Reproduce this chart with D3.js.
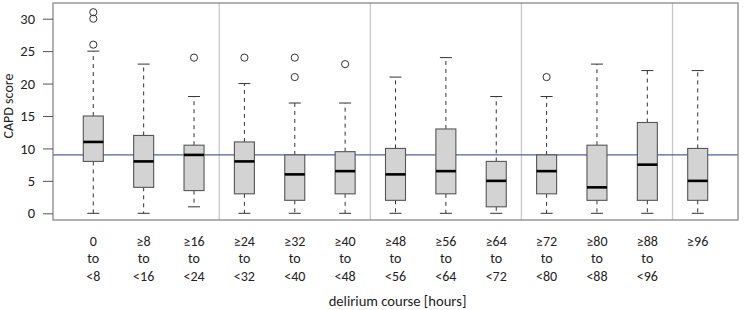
<!DOCTYPE html>
<html><head><meta charset="utf-8">
<script src="https://cdn.jsdelivr.net/npm/d3@7"></script>
<style>
body{margin:0;background:#fff;}
svg text{font-family:Carlito,Lato,"Open Sans",sans-serif;fill:#222;}
</style></head>
<body><svg id="c" width="745" height="310"></svg>
<script>
const categories = [["0","to","<8"],["≥8","to","<16"],["≥16","to","<24"],["≥24","to","<32"],["≥32","to","<40"],["≥40","to","<48"],["≥48","to","<56"],["≥56","to","<64"],["≥64","to","<72"],["≥72","to","<80"],["≥80","to","<88"],["≥88","to","<96"],["≥96"]];
const whiskerLow = [0,0,1,0,0,0,0,0,0,0,0,0,0];
const q1 =         [8,4,3.5,3,2,3,2,3,1,3,2,2,2];
const medians =    [11,8,9,8,6,6.5,6,6.5,5,6.5,4,7.5,5];
const q3 =         [15,12,10.5,11,9,9.5,10,13,8,9,10.5,14,10];
const whiskerHigh= [25,23,18,20,17,17,21,24,18,18,23,22,22];
const outliers =   [[26,30,31],[],[24],[24],[21,24],[23],[],[],[],[21],[],[],[]];
const yTicks = [0,5,10,15,20,25,30];
const separators = [3.5,6.5,9.5,12.5];
const refLine = 9;

const svg = d3.select("#c");
const L=53,R=738,T=3,B=220;
const x = d3.scaleLinear().domain([0.2,13.8]).range([L,R]);
const y = d3.scaleLinear().domain([0,30]).range([213.3,18.7]);
const bw = 20, cw = 12;

// separators
svg.selectAll(".sep").data(separators).enter().append("line")
  .attr("x1",d=>x(d)).attr("x2",d=>x(d)).attr("y1",T).attr("y2",B)
  .attr("stroke","#c8c8c8").attr("stroke-width",1.3);
// ref line
svg.append("line").attr("x1",L).attr("x2",R).attr("y1",y(refLine)).attr("y2",y(refLine))
  .attr("stroke","#4a62a8").attr("stroke-width",1.3);

const data = categories.map((c,i)=>({i:i+1,lo:whiskerLow[i],q1:q1[i],med:medians[i],q3:q3[i],hi:whiskerHigh[i],out:outliers[i]}));
const g = svg.selectAll(".box").data(data).enter().append("g");
// whiskers
g.append("line").attr("x1",d=>x(d.i)).attr("x2",d=>x(d.i)).attr("y1",d=>y(d.q3)).attr("y2",d=>y(d.hi))
  .attr("stroke","#333").attr("stroke-dasharray","4,4").attr("stroke-width",1);
g.append("line").attr("x1",d=>x(d.i)).attr("x2",d=>x(d.i)).attr("y1",d=>y(d.q1)).attr("y2",d=>y(d.lo))
  .attr("stroke","#333").attr("stroke-dasharray","4,4").attr("stroke-width",1);
g.append("line").attr("x1",d=>x(d.i)-cw/2).attr("x2",d=>x(d.i)+cw/2).attr("y1",d=>y(d.hi)).attr("y2",d=>y(d.hi))
  .attr("stroke","#333").attr("stroke-width",1);
g.append("line").attr("x1",d=>x(d.i)-cw/2).attr("x2",d=>x(d.i)+cw/2).attr("y1",d=>y(d.lo)).attr("y2",d=>y(d.lo))
  .attr("stroke","#333").attr("stroke-width",1);
// box
g.append("rect").attr("x",d=>x(d.i)-bw/2).attr("width",bw).attr("y",d=>y(d.q3)).attr("height",d=>y(d.q1)-y(d.q3))
  .attr("fill","#d3d3d3").attr("stroke","#555").attr("stroke-width",1.1);
g.append("line").attr("x1",d=>x(d.i)-bw/2).attr("x2",d=>x(d.i)+bw/2).attr("y1",d=>y(d.med)).attr("y2",d=>y(d.med))
  .attr("stroke","#000").attr("stroke-width",2.6);
// outliers
g.selectAll("circle").data(d=>d.out.map(v=>({i:d.i,v}))).enter().append("circle")
  .attr("cx",d=>x(d.i)).attr("cy",d=>y(d.v)).attr("r",3.6).attr("fill","none").attr("stroke","#333").attr("stroke-width",1);

// frame
svg.append("rect").attr("x",L).attr("y",T).attr("width",R-L).attr("height",B-T)
  .attr("fill","none").attr("stroke","#888").attr("stroke-width",1.3);

// y axis
const ya = svg.append("g").attr("transform",`translate(${L},0)`)
  .call(d3.axisLeft(y).tickValues(yTicks).tickSize(10).tickPadding(8));
ya.select(".domain").remove();
ya.selectAll(".tick line").attr("stroke","#555");
ya.selectAll(".tick text").attr("font-size",14.5).attr("fill","#222").style("font-family",'Carlito,Lato,"Open Sans",sans-serif');

svg.append("text").attr("transform","translate(13,106) rotate(-90)").attr("text-anchor","middle")
  .attr("font-size",14).text("CAPD score");

// x labels
const xl = svg.selectAll(".xl").data(categories).enter().append("text")
  .attr("text-anchor","middle").attr("font-size",14);
xl.selectAll("tspan").data((d,i)=>d.map(s=>({s,i}))).enter().append("tspan")
  .attr("x",d=>x(d.i+1)).attr("y",(d,k)=>246+k*17.3).text(d=>d.s);

svg.append("text").attr("x",x(7)+2).attr("y",306).attr("text-anchor","middle").attr("font-size",14.6)
  .text("delirium course [hours]");
</script></body></html>
